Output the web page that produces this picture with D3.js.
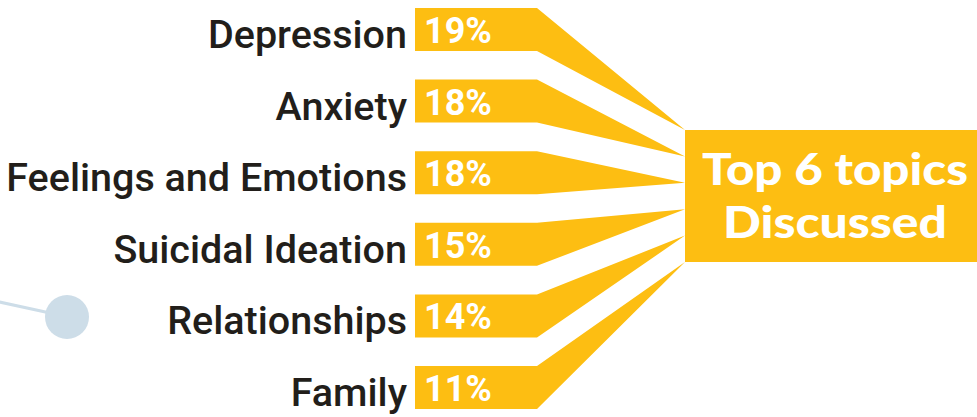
<!DOCTYPE html>
<html>
<head>
<meta charset="utf-8">
<script src="https://cdnjs.cloudflare.com/ajax/libs/d3/7.8.5/d3.min.js"></script>
<style>
  html, body { margin: 0; padding: 0; background: #fff; overflow: hidden; }
  svg { display: block; }
</style>
</head>
<body>
<div id="chart"></div>
<script>
// topics and their share of conversations (%)
var categories = ["Depression", "Anxiety", "Feelings and Emotions", "Suicidal Ideation", "Relationships", "Family"];
var shares = [19, 18, 18, 15, 14, 11];
var titleLines = ["Top 6 topics", "Discussed"];

var attrs = {
  width: 977,
  height: 417,
  yellow: "#fdbe12",
  ink: "#221e1a",
  bandHeight: 43,
  bandLeft: 415,
  bandFlat: 537,
  box: { x: 685, y: 130, w: 292, h: 132 },
  titleWidths: [266, 224]
};

var data = categories.map(function (c, i) { return { name: c, share: shares[i] }; });

var svg = d3.select("#chart").append("svg")
  .attr("width", attrs.width)
  .attr("height", attrs.height);

// faint decoration on the left
var deco = svg.append("g").attr("class", "deco");
deco.append("line")
  .attr("x1", -5).attr("y1", 301)
  .attr("x2", 50).attr("y2", 313)
  .attr("stroke", "#cddde8")
  .attr("stroke-width", 3);
deco.append("circle")
  .attr("cx", 67).attr("cy", 317).attr("r", 22)
  .attr("fill", "#cddde8");

// vertical position of each band and where it meets the box
var y = d3.scalePoint()
  .domain(categories)
  .range([8, attrs.height - 8 - attrs.bandHeight]);

var tip = d3.scalePoint()
  .domain(categories)
  .range([attrs.box.y, attrs.box.y + attrs.box.h]);

function bandPath(d) {
  var top = y(d.name), bottom = top + attrs.bandHeight;
  var p = d3.path();
  p.moveTo(attrs.bandLeft, top);
  p.lineTo(attrs.bandFlat, top);
  p.lineTo(attrs.box.x, tip(d.name));
  p.lineTo(attrs.bandFlat, bottom);
  p.lineTo(attrs.bandLeft, bottom);
  p.closePath();
  return p.toString();
}

var rows = svg.append("g").attr("class", "rows")
  .selectAll("g.row")
  .data(data)
  .join("g")
  .attr("class", "row");

rows.append("path")
  .attr("d", bandPath)
  .attr("fill", attrs.yellow);

rows.append("text")
  .attr("x", attrs.bandLeft - 8)
  .attr("y", function (d) { return y(d.name) + attrs.bandHeight - 3; })
  .attr("text-anchor", "end")
  .attr("font-family", "Roboto, sans-serif")
  .attr("font-weight", 500)
  .attr("font-size", 39.5)
  .attr("fill", attrs.ink)
  .text(function (d) { return d.name; });

rows.append("text")
  .attr("x", attrs.bandLeft + 9)
  .attr("y", function (d) { return y(d.name) + 35; })
  .attr("font-family", "Roboto, sans-serif")
  .attr("font-weight", 700)
  .attr("font-size", 36)
  .attr("fill", "#fff")
  .text(function (d) { return d.share + "%"; });

// title box
svg.append("rect")
  .attr("x", attrs.box.x)
  .attr("y", attrs.box.y)
  .attr("width", attrs.box.w)
  .attr("height", attrs.box.h)
  .attr("fill", attrs.yellow);

svg.append("g").attr("class", "title")
  .selectAll("text")
  .data(titleLines)
  .join("text")
  .attr("x", attrs.box.x + attrs.box.w / 2 + 4)
  .attr("y", function (d, i) { return 185 + i * 53; })
  .attr("text-anchor", "middle")
  .attr("font-family", "Lato, sans-serif")
  .attr("font-weight", 900)
  .attr("font-size", 44)
  .attr("textLength", function (d, i) { return attrs.titleWidths[i]; })
  .attr("lengthAdjust", "spacingAndGlyphs")
  .attr("fill", "#fff")
  .text(function (d) { return d; });
</script>
</body>
</html>
